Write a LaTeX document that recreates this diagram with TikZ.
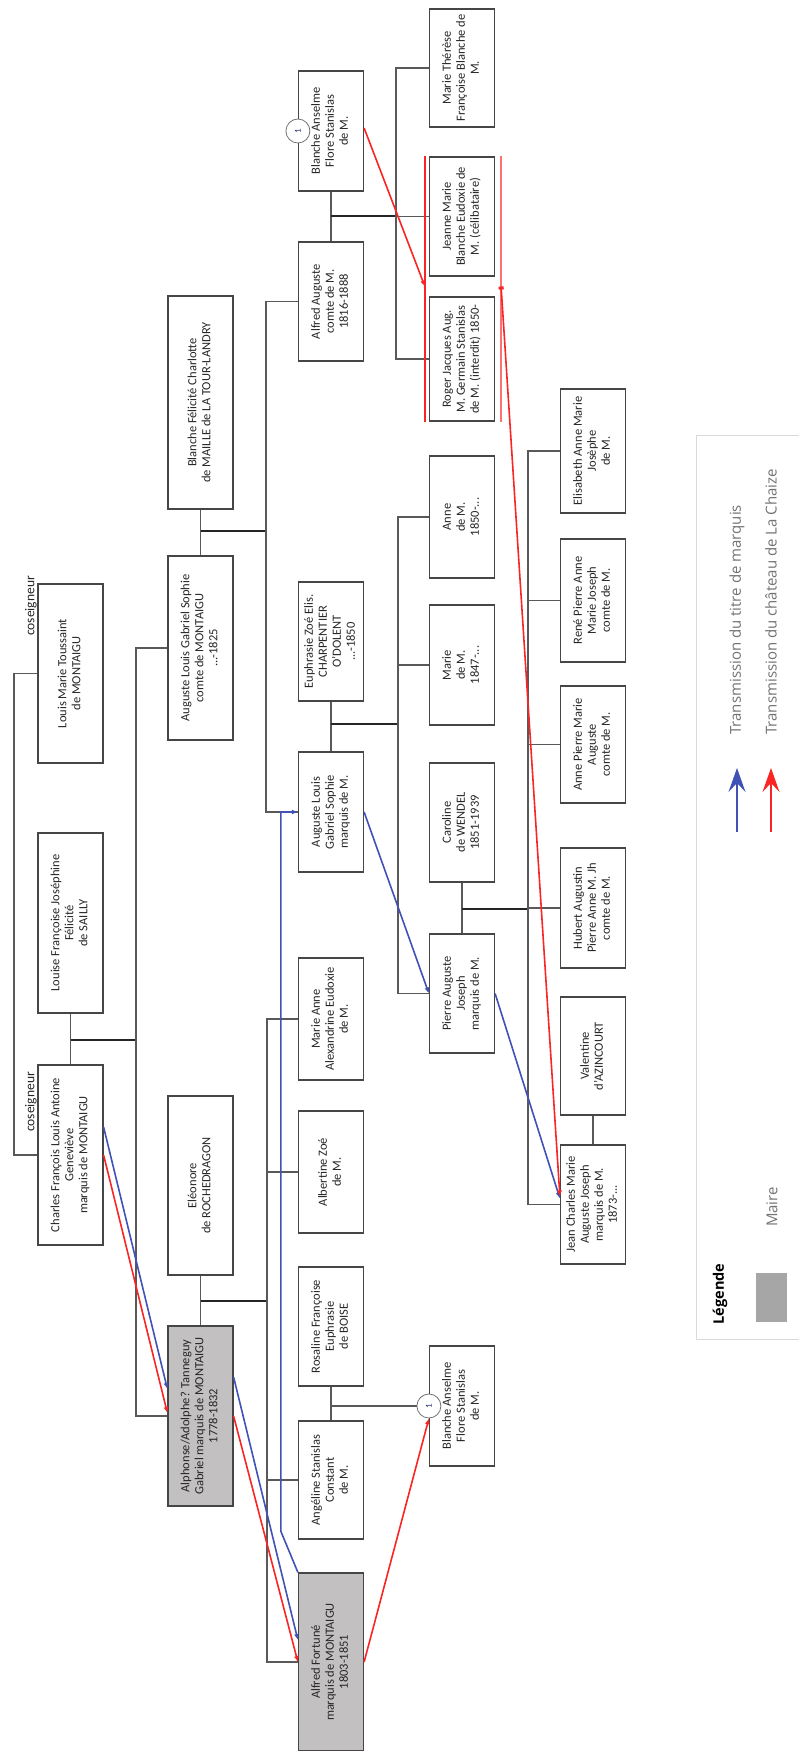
\documentclass[tikz,border=0pt]{standalone}
\usepackage{fontspec}
\setmainfont{Carlito}
\newfontfamily\legfont{Open Sans}
\usetikzlibrary{arrows.meta, calc}
\definecolor{titreblue}{RGB}{64, 82, 182}
\definecolor{chaizered}{RGB}{250, 36, 36}
\definecolor{mairegrey}{RGB}{194, 192, 192}
\definecolor{legendgrey}{RGB}{166, 166, 166}
\definecolor{boxline}{RGB}{70, 70, 70}
\newcommand{\vtxt}[1]{\rotatebox{90}{\begin{tabular}{@{}c@{}}#1\end{tabular}}}

\begin{document}
\begin{tikzpicture}[x=1pt, y=-1pt,
  pers/.style={draw=boxline, line width=1.2pt, fill=white, minimum width=65pt, minimum height=#1, inner sep=0pt, text=black!85, font=\fontsize{12.5}{14}\selectfont},
  maire/.style={pers=#1, fill=mairegrey},
  num/.style={circle, draw=black!55, line width=0.8pt, fill=white, minimum size=24pt, inner sep=0pt, text=titreblue!60!black, font=\small},
  link/.style={draw=black!65, line width=1.1pt},
  wed/.style={draw=black!85, line width=2.2pt},
  titre/.style={draw=titreblue, line width=1.6pt, -{Latex[length=6pt,width=5pt]}},
  chaize/.style={draw=chaizered, line width=1.6pt, -{Latex[length=6pt,width=5pt]}},
  legarrow/.style={line width=1.4pt, -{Stealth[length=24pt,width=17pt,inset=9pt]}},
  cosg/.style={rotate=90, inner sep=0pt, text=black!85, font=\fontsize{13.5}{15}\selectfont},
  legtxt/.style={rotate=90, anchor=west, inner sep=0pt, text=black!55, font=\legfont\fontsize{15}{17}\selectfont}
]
\useasboundingbox (0,0) rectangle (798,1751);

% generation 1
\node[pers=179pt] (louis) at (70.5,673.5) {\vtxt{Louis Marie Toussaint\\de MONTAIGU}};
\node[pers=180pt] (louise) at (70.5,923) {\vtxt{Louise Françoise Joséphine\\Félicité\\de SAILLY}};
\node[pers=180pt] (charles) at (70.5,1155) {\vtxt{Charles François Louis Antoine\\Geneviève\\marquis de MONTAIGU}};
\node[cosg] (cosg1) at (31,606) {coseigneur};
\node[cosg] (cosg2) at (31,1102) {coseigneur};

% generation 2
\node[pers=213pt] (blanchemaille) at (200.5,402.5) {\vtxt{Blanche Félicité Charlotte\\de MAILLE de LA TOUR-LANDRY}};
\node[pers=184pt] (augcomte) at (200.5,648) {\vtxt{Auguste Louis Gabriel Sophie\\comte de MONTAIGU\\...-1825}};
\node[pers=179pt] (eleonore) at (200.5,1185.5) {\vtxt{Eléonore\\de ROCHEDRAGON}};
\node[maire=180pt] (alphonse) at (200.5,1416) {\vtxt{Alphonse/Adolphe? Tanneguy\\Gabriel marquis de MONTAIGU\\1778-1832}};

% generation 3
\node[pers=120pt] (blanche1) at (331,131) {\vtxt{Blanche Anselme\\Flore Stanislas\\de M.}};
\node[pers=119pt] (alfredaug) at (331,301.5) {\vtxt{Alfred Auguste\\comte de M.\\1816-1888}};
\node[pers=119pt] (euphrasie) at (331,641.5) {\vtxt{Euphrasie Zoé Elis.\\CHARPENTIER\\O'DOLENT\\...-1850}};
\node[pers=120pt] (auglouis) at (331,812) {\vtxt{Auguste Louis\\Gabriel Sophie\\marquis de M.}};
\node[pers=122pt] (marieanne) at (331,1019) {\vtxt{Marie Anne\\Alexandrine Eudoxie\\de M.}};
\node[pers=122pt] (albertine) at (331,1172) {\vtxt{Albertine Zoé\\de M.}};
\node[pers=119pt] (rosaline) at (331,1326.5) {\vtxt{Rosaline Françoise\\Euphrasie\\de BOISE}};
\node[pers=118pt] (angeline) at (331,1480) {\vtxt{Angéline Stanislas\\Constant\\de M.}};
\node[maire=178pt] (alfredfort) at (331,1662) {\vtxt{Alfred Fortuné\\marquis de MONTAIGU\\1803-1851}};

% generation 4
\node[pers=118pt] (mariether) at (462,68) {\vtxt{Marie Thérèse\\Françoise Blanche de\\M.}};
\node[pers=119pt] (jeanne) at (462,216.5) {\vtxt{Jeanne Marie\\Blanche Eudoxie de\\M. (célibataire)}};
\node[pers=124pt] (roger) at (462,359) {\vtxt{Roger Jacques Aug.\\M. Germain Stanislas\\de M. (interdit) 1850-}};
\node[pers=122pt] (anne) at (462,517) {\vtxt{Anne\\de M.\\1850-...}};
\node[pers=120pt] (marie) at (462,665) {\vtxt{Marie\\de M.\\1847-...}};
\node[pers=119pt] (caroline) at (462,822.5) {\vtxt{Caroline\\de WENDEL\\1851-1939}};
\node[pers=119pt] (pierre) at (462,993.5) {\vtxt{Pierre Auguste\\Joseph\\marquis de M.}};
\node[pers=120pt] (blanche2) at (462,1406) {\vtxt{Blanche Anselme\\Flore Stanislas\\de M.}};

% generation 5
\node[pers=124pt] (elisabeth) at (593,451) {\vtxt{Elisabeth Anne Marie\\Josèphe\\de M.}};
\node[pers=123pt] (rene) at (593,600.5) {\vtxt{René Pierre Anne\\Marie Joseph\\comte de M.}};
\node[pers=117pt] (annepierre) at (593,744.5) {\vtxt{Anne Pierre Marie\\Auguste\\comte de M.}};
\node[pers=120pt] (hubert) at (593,908) {\vtxt{Hubert Augustin\\Pierre Anne M. Jh\\comte de M.}};
\node[pers=118pt] (valentine) at (593,1056) {\vtxt{Valentine\\d'AZINCOURT}};
\node[pers=119pt] (jeancharles) at (593,1204.5) {\vtxt{Jean Charles Marie\\Auguste Joseph\\marquis de M.\\1873-...}};

\node[num] (c1) at (blanche1.west) {\rotatebox{90}{1}};
\node[num] (c2) at (blanche2.west) {\rotatebox{90}{1}};

% families
\coordinate (cosc) at (14,900);
\draw[link] (louis) -| (cosc) |- (charles);

\draw[link] (louise) -- (charles);
\coordinate (f1) at (136,1040);
\draw[wed] (f1 -| louise) -- (f1);
\draw[link] (augcomte) -| (f1) |- (alphonse);

\draw[link] (eleonore) -- (alphonse);
\coordinate (f2) at (267,1301);
\draw[wed] (f2 -| eleonore) -- (f2);
\draw[link] (marieanne) -| (f2) |- (alfredfort);
\draw[link] (f2 |- albertine) -- (albertine);
\draw[link] (f2 |- angeline) -- (angeline);

\draw[link] (blanchemaille) -- (augcomte);
\coordinate (f3) at (266,531);
\draw[wed] (f3 -| augcomte) -- (f3);
\draw[link] (alfredaug) -| (f3) |- (auglouis);

\draw[link] (blanche1) -- (alfredaug);
\coordinate (f4) at (396,216);
\draw[wed] (f4 -| alfredaug) -- (f4);
\draw[link] (mariether) -| (f4) |- (roger);
\draw[link] (f4 |- jeanne) -- (jeanne);

\draw[link] (euphrasie) -- (auglouis);
\coordinate (f5) at (398,724);
\draw[wed] (f5 -| auglouis) -- (f5);
\draw[link] (anne) -| (f5) |- (pierre);
\draw[link] (f5 |- marie) -- (marie);

\draw[link] (caroline) -- (pierre);
\coordinate (f6) at (528,909);
\draw[wed] (f6 -| pierre) -- (f6);
\draw[link] (elisabeth) -| (f6) |- (jeancharles);
\foreach \kid in {rene, annepierre, hubert}
  \draw[link] (f6 |- \kid) -- (\kid);

\draw[wed, draw=black!65] (valentine) -- (jeancharles);
\draw[link] (rosaline) -- (angeline);
\draw[link] (c2 -| rosaline) -- (c2);

% titre de marquis
\draw[titre] ([yshift=28pt]charles.east) -- ([yshift=27pt]alphonse.west);
\draw[titre] ([yshift=39pt]alphonse.east) -- ([yshift=22pt]alfredfort.west);
\draw[titre] (alfredfort.north west) -- ++(-17,-41) |- (auglouis.west);
\draw[titre] (auglouis.east) -- (pierre.west);
\draw[titre] (pierre.east) -- ([yshift=6pt]jeancharles.west);

% chateau de La Chaize
\draw[chaize] (charles.east) -- ([yshift=3pt]alphonse.west);
\draw[chaize] (alphonse.east) -- (alfredfort.west);
\draw[chaize] (alfredfort.east) -- (c2.south);
\draw[chaize, -] ([xshift=-4pt]jeanne.north west) -- ([xshift=-4pt]roger.south west);
\draw[chaize, -, draw=chaizered!65] ([xshift=6pt]jeanne.north east) -- ([xshift=6pt]roger.south east);
\path ([xshift=-4pt]jeanne.south west) -- ([xshift=-4pt]roger.north west) coordinate[midway] (rin);
\path ([xshift=6pt]jeanne.south east) -- ([xshift=6pt]roger.north east) coordinate[midway] (rout);
\draw[chaize] ([yshift=3pt]blanche1.east) -- (rin);
\draw[chaize, {Square[length=3pt,width=5pt]}-{Latex[length=6pt,width=5pt]}] (rout) -- ([yshift=8pt]jeancharles.west);

% legende
\draw[draw=black!15, line width=0.8pt, fill=white] (696,435) rectangle (815,1339);
\node[legtxt, anchor=center, text=black, font=\legfont\bfseries\fontsize{14.5}{16}\selectfont] (leg) at (720,1294) {Légende};
\fill[legendgrey] (756,1273) rectangle (787,1322);
\node[legtxt, anchor=center] (lmaire) at (772,1207) {Maire};
\coordinate (lb) at (737,832);
\draw[legarrow, draw=titreblue, fill=titreblue] (lb) -- ++(0,-64) coordinate (lbt);
\node[legtxt] (ltitre) at ([yshift=33pt]lbt) {Transmission du titre de marquis};
\coordinate (lr) at (771,832);
\draw[legarrow, draw=chaizered, fill=chaizered] (lr) -- ++(0,-64) coordinate (lrt);
\node[legtxt] (lchaize) at ([yshift=33pt]lrt) {Transmission du château de La Chaize};
\end{tikzpicture}
\end{document}
